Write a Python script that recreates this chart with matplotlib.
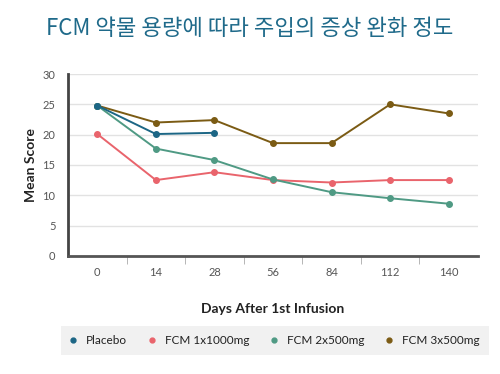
import matplotlib
matplotlib.use("Agg")
from matplotlib import pyplot as plt

# Data
days = ["0", "14", "28", "56", "84", "112", "140"]
placebo = [24.8, 20.1, 20.3]
fcm_1x1000 = [20.1, 12.5, 13.8, 12.5, 12.1, 12.5, 12.5]
fcm_2x500 = [24.8, 17.7, 15.8, 12.6, 10.5, 9.5, 8.6]
fcm_3x500 = [24.8, 22.0, 22.4, 18.6, 18.6, 25.0, 23.5]
y_ticks = [0, 5, 10, 15, 20, 25, 30]

c_placebo = '#1c6685'
c_1000 = '#e9646c'
c_2x500 = '#4f9a84'
c_3x500 = '#7b5b14'

plt.rcParams['font.family'] = ['Lato', 'DejaVu Sans']

fig = plt.figure(figsize=(5, 3.74), dpi=100)
ax = fig.add_axes([0.136, 0.316, 0.82, 0.486])

x = list(range(len(days)))
ax.plot(x[:len(placebo)], placebo, color=c_placebo, marker='o', ms=4, lw=1.4, label='Placebo', zorder=5)
ax.plot(x, fcm_1x1000, color=c_1000, marker='o', ms=4, lw=1.4, label='FCM 1x1000mg', zorder=3)
ax.plot(x, fcm_2x500, color=c_2x500, marker='o', ms=4, lw=1.4, label='FCM 2x500mg', zorder=4)
ax.plot(x, fcm_3x500, color=c_3x500, marker='o', ms=4, lw=1.4, label='FCM 3x500mg', zorder=2)

ax.set_xlim(-0.5, 6.5)
ax.set_ylim(0, 30)
ax.set_yticks(y_ticks)
ax.set_xticks(x)
ax.set_xticklabels(days)
ax.set_xticks([i + 0.5 for i in range(6)], minor=True)
ax.tick_params(axis='x', which='major', length=0, pad=8, labelsize=8, labelcolor='#555555')
ax.tick_params(axis='x', which='minor', length=6, color='#aaaaaa', direction='out')
ax.tick_params(axis='y', length=0, pad=9, labelsize=8, labelcolor='#555555')
ax.grid(axis='y', color='#e2e2e2', lw=1)
ax.set_axisbelow(True)
for s in ['top', 'right']:
    ax.spines[s].set_visible(False)
ax.spines['left'].set_color('#444444')
ax.spines['left'].set_linewidth(2)
ax.spines['bottom'].set_color('#555555')
ax.spines['bottom'].set_linewidth(2)

ax.set_ylabel('Mean Score', fontsize=10, fontweight='bold', color='#222222')
ax.yaxis.set_label_coords(-0.075, 0.5)
ax.set_xlabel('Days After 1st Infusion', fontsize=10, fontweight='bold', color='#222222', labelpad=18)

fig.text(0.5, 0.925, 'FCM 약물 용량에 따라 주입의 증상 완화 정도', ha='center', va='center',
         fontsize=16, color='#1f6a8a', family=['Noto Sans CJK KR', 'DejaVu Sans'])

handles, labels = ax.get_legend_handles_labels()
leg = fig.legend(handles, labels, loc='center', bbox_to_anchor=(0.55, 0.09), ncol=4,
                 frameon=True, fancybox=False, fontsize=8.5, handlelength=0.4,
                 columnspacing=1.9, handletextpad=0.9, borderpad=0.75, borderaxespad=0)
for h in leg.legend_handles:
    h.set_linestyle('')
    h.set_markersize(3.5)
leg.get_frame().set_facecolor('#eeeeee')
leg.get_frame().set_edgecolor('none')
for t in leg.get_texts():
    t.set_color('#222222')

fig.savefig('out.png', dpi=100)
